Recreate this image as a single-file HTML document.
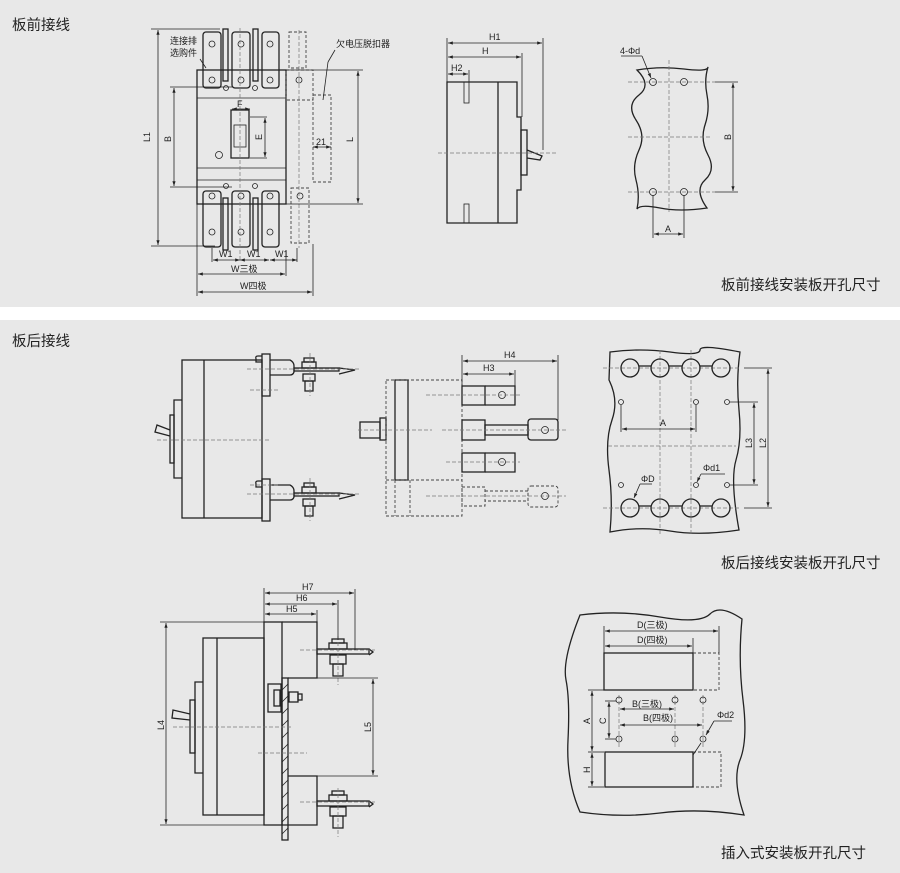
<!DOCTYPE html>
<html><head><meta charset="utf-8"><style>
html,body{margin:0;padding:0;background:#e8e8e8;}
svg{display:block;}
text{font-family:"Liberation Sans","Noto Sans CJK SC",sans-serif;fill:#222;}
.l{fill:none;stroke:#222;stroke-width:1.3;}
.t{fill:none;stroke:#222;stroke-width:0.8;}
.d{fill:none;stroke:#444;stroke-width:0.9;stroke-dasharray:3 2;}
.c{fill:none;stroke:#777;stroke-width:0.7;stroke-dasharray:4 2;}
.s{font-size:9px;}
.cap{font-size:14.5px;}
</style></head><body>
<svg width="900" height="873" viewBox="0 0 900 873" xmlns="http://www.w3.org/2000/svg">
<defs>
<marker id="a" viewBox="0 0 6 6" refX="6" refY="3" markerWidth="6" markerHeight="6" orient="auto-start-reverse"><path d="M0,1 L6,3 L0,5z" fill="#222"/></marker>
</defs>
<rect x="0" y="0" width="900" height="873" fill="#e8e8e8"/>
<rect x="0" y="307" width="900" height="13" fill="#fff"/>

<text x="12" y="30" class="cap">板前接线</text>
<text x="721" y="290" class="cap">板前接线安装板开孔尺寸</text>
<text x="12" y="346" class="cap">板后接线</text>
<text x="721" y="568" class="cap">板后接线安装板开孔尺寸</text>
<text x="721" y="858" class="cap">插入式安装板开孔尺寸</text>

<!-- ===== front view ===== -->
<g>
<rect class="l" x="197" y="70" width="89" height="134"/>
<line class="t" x1="197" y1="98" x2="286" y2="98"/>
<line class="t" x1="197" y1="168" x2="286" y2="168"/>
<line class="t" x1="197" y1="180" x2="286" y2="180"/>
<rect class="l" x="231" y="110" width="18" height="48"/>
<rect class="t" x="234" y="125" width="12" height="22"/>
<circle class="t" cx="219" cy="155" r="3.5"/>
<!-- top pads -->
<g class="l">
<rect x="203" y="32" width="18" height="56" rx="3"/>
<rect x="232" y="32" width="18" height="56" rx="3"/>
<rect x="262" y="32" width="17" height="56" rx="3"/>
<rect x="223" y="29" width="5" height="52"/>
<rect x="253" y="29" width="5" height="52"/>
<rect x="203" y="191" width="18" height="56" rx="3"/>
<rect x="232" y="191" width="18" height="56" rx="3"/>
<rect x="262" y="191" width="17" height="56" rx="3"/>
<rect x="223" y="198" width="5" height="52"/>
<rect x="253" y="198" width="5" height="52"/>
</g>
<g class="t">
<circle cx="212" cy="44" r="3"/><circle cx="241" cy="44" r="3"/><circle cx="270" cy="44" r="3"/>
<circle cx="212" cy="80" r="3"/><circle cx="241" cy="80" r="3"/><circle cx="270" cy="80" r="3"/>
<circle cx="226" cy="88" r="2.5"/><circle cx="255" cy="88" r="2.5"/>
<circle cx="226" cy="186" r="2.5"/><circle cx="255" cy="186" r="2.5"/>
<circle cx="212" cy="196" r="3"/><circle cx="241" cy="196" r="3"/><circle cx="270" cy="196" r="3"/>
<circle cx="212" cy="232" r="3"/><circle cx="241" cy="232" r="3"/><circle cx="270" cy="232" r="3"/>
<circle cx="299" cy="80" r="3"/><circle cx="300" cy="196" r="3"/>
</g>
<rect class="d" x="289" y="32" width="17" height="36"/>
<rect class="d" x="286" y="70" width="27" height="30"/>
<rect class="d" x="313" y="95" width="18" height="87"/>
<rect class="d" x="291" y="188" width="18" height="55"/>
<line class="c" x1="240" y1="28" x2="240" y2="262"/>
<line class="c" x1="299" y1="30" x2="299" y2="248"/>
<!-- dims -->
<line class="t" x1="151" y1="29" x2="220" y2="29"/>
<line class="t" x1="151" y1="246" x2="215" y2="246"/>
<line class="t" x1="158" y1="30" x2="158" y2="245" marker-start="url(#a)" marker-end="url(#a)"/>
<text x="150" y="142" class="s" transform="rotate(-90 150 142)">L1</text>
<line class="t" x1="170" y1="87" x2="232" y2="87"/>
<line class="t" x1="170" y1="187" x2="232" y2="187"/>
<line class="t" x1="174" y1="88" x2="174" y2="186" marker-start="url(#a)" marker-end="url(#a)"/>
<text x="171" y="142" class="s" transform="rotate(-90 171 142)">B</text>
<line class="t" x1="286" y1="70" x2="363" y2="70"/>
<line class="t" x1="286" y1="204" x2="363" y2="204"/>
<line class="t" x1="358" y1="71" x2="358" y2="203" marker-start="url(#a)" marker-end="url(#a)"/>
<text x="353" y="142" class="s" transform="rotate(-90 353 142)">L</text>
<text x="237" y="107" class="s">F</text>
<line class="t" x1="232" y1="109" x2="250" y2="109" marker-start="url(#a)" marker-end="url(#a)"/>
<line class="t" x1="250" y1="117" x2="267" y2="117"/><line class="t" x1="250" y1="158" x2="267" y2="158"/>
<line class="t" x1="265" y1="118" x2="265" y2="157" marker-start="url(#a)" marker-end="url(#a)"/>
<text x="262" y="140" class="s" transform="rotate(-90 262 140)">E</text>
<text x="316" y="145" class="s">21</text>
<line class="t" x1="313" y1="147" x2="331" y2="147" marker-start="url(#a)" marker-end="url(#a)"/>
<text x="170" y="44" class="s">连接排</text>
<text x="170" y="56" class="s">选购件</text>
<line class="t" x1="200" y1="59" x2="206" y2="68"/>
<text x="336" y="47" class="s">欠电压脱扣器</text>
<line class="t" x1="335" y1="50" x2="328" y2="62"/>
<line class="t" x1="328" y1="62" x2="323" y2="100"/>
<line class="t" x1="212" y1="248" x2="212" y2="262"/>
<line class="t" x1="297" y1="248" x2="297" y2="262"/>
<line class="t" x1="213" y1="260" x2="240" y2="260" marker-start="url(#a)" marker-end="url(#a)"/>
<line class="t" x1="240" y1="260" x2="269" y2="260" marker-start="url(#a)" marker-end="url(#a)"/>
<line class="t" x1="270" y1="260" x2="297" y2="260" marker-start="url(#a)" marker-end="url(#a)"/>
<text x="219" y="257" class="s">W1</text><text x="247" y="257" class="s">W1</text><text x="275" y="257" class="s">W1</text>
<line class="t" x1="197" y1="204" x2="197" y2="296"/>
<line class="t" x1="286" y1="250" x2="286" y2="276"/>
<line class="t" x1="313" y1="244" x2="313" y2="296"/>
<line class="t" x1="198" y1="274" x2="285" y2="274" marker-start="url(#a)" marker-end="url(#a)"/>
<text x="231" y="272" class="s">W三极</text>
<line class="t" x1="198" y1="292" x2="312" y2="292" marker-start="url(#a)" marker-end="url(#a)"/>
<text x="240" y="289" class="s">W四极</text>
</g>

<!-- ===== side view top ===== -->
<g>
<path class="l" d="M447,82 H517 V117 H521 V190 H517 V223 H447 Z"/>
<line class="l" x1="498" y1="82" x2="498" y2="223"/>
<rect class="l" x="521" y="130" width="6" height="45"/>
<path class="l" d="M527,150 L542,156 L540,160 L527,158"/>
<rect class="t" x="464" y="82" width="5" height="21"/>
<rect class="t" x="464" y="204" width="5" height="19"/>
<line class="c" x1="438" y1="153" x2="558" y2="153"/>
<line class="t" x1="447" y1="38" x2="447" y2="82"/>
<line class="t" x1="543" y1="38" x2="543" y2="150"/>
<line class="t" x1="522" y1="53" x2="522" y2="117"/>
<line class="t" x1="469" y1="70" x2="469" y2="82"/>
<line class="t" x1="448" y1="43" x2="542" y2="43" marker-start="url(#a)" marker-end="url(#a)"/>
<text x="489" y="40" class="s">H1</text>
<line class="t" x1="448" y1="57" x2="521" y2="57" marker-start="url(#a)" marker-end="url(#a)"/>
<text x="482" y="54" class="s">H</text>
<line class="t" x1="448" y1="74" x2="468" y2="74" marker-start="url(#a)" marker-end="url(#a)"/>
<text x="451" y="71" class="s">H2</text>
</g>

<!-- ===== panel top right ===== -->
<g>
<path class="l" d="M637,70 Q660,66 684,69 T708,67 Q704,80 707,95 T705,125 T708,155 T705,180 T707,208 Q680,212 660,208 T637,209 Q640,195 636,180 T639,150 T636,120 T639,95 T637,70 Z"/>
<line class="c" x1="628" y1="82" x2="715" y2="82"/>
<line class="c" x1="628" y1="192" x2="715" y2="192"/>
<line class="c" x1="628" y1="137" x2="712" y2="137"/>
<line class="c" x1="669" y1="60" x2="669" y2="212"/>
<g class="t"><circle cx="653" cy="82" r="3.5"/><circle cx="684" cy="82" r="3.5"/><circle cx="653" cy="192" r="3.5"/><circle cx="684" cy="192" r="3.5"/></g>
<line class="t" x1="653" y1="195" x2="653" y2="238"/><line class="t" x1="684" y1="195" x2="684" y2="238"/>
<line class="t" x1="654" y1="234" x2="683" y2="234" marker-start="url(#a)" marker-end="url(#a)"/>
<text x="665" y="232" class="s">A</text>
<line class="t" x1="715" y1="82" x2="738" y2="82"/><line class="t" x1="715" y1="192" x2="738" y2="192"/>
<line class="t" x1="733" y1="83" x2="733" y2="191" marker-start="url(#a)" marker-end="url(#a)"/>
<text x="731" y="140" class="s" transform="rotate(-90 731 140)">B</text>
<text x="620" y="54" class="s">4-Φd</text>
<line class="t" x1="621" y1="56" x2="642" y2="56"/>
<line class="t" x1="642" y1="56" x2="651" y2="78" marker-end="url(#a)"/>
</g>

<!-- ===== rear side view ===== -->
<g>
<rect class="l" x="182" y="360" width="80" height="158"/>
<line class="l" x1="204" y1="360" x2="204" y2="518"/>
<path class="l" d="M182,400 H174 V478 H182"/>
<rect class="l" x="170" y="415" width="4" height="48"/>
<path class="l" d="M170,430 L157,425 L155,432 L170,436"/>
<line class="c" x1="157" y1="440" x2="270" y2="440"/>
<g id="term">
<path class="l" d="M262,356 H258 Q255,356 256,359 V362 H262"/>
<rect class="l" x="262" y="354" width="8" height="42"/>
<path class="l" d="M270,360 H290 Q294,362 294,366 V372 Q293,375 290,375 H270"/>
<rect class="l" x="294" y="368" width="45" height="3"/>
<path class="l" d="M339,368 L355,370 L339,374"/>
<rect class="l" x="302" y="362" width="14" height="6"/>
<rect class="l" x="304" y="358" width="10" height="4"/>
<rect class="l" x="303" y="374" width="12" height="7"/>
<rect class="l" x="305" y="381" width="8" height="10"/>
<line class="c" x1="310" y1="353" x2="310" y2="396"/>
<line class="c" x1="247" y1="369" x2="360" y2="369"/>
</g>
<use href="#term" transform="translate(0,125)"/>
<line class="c" x1="250" y1="390" x2="280" y2="390"/>
<line class="c" x1="250" y1="485" x2="280" y2="485"/>
</g>

<!-- ===== middle rear ===== -->
<g>
<rect class="l" x="395" y="380" width="13" height="100"/>
<rect class="l" x="380" y="418" width="6" height="22"/>
<rect class="l" x="360" y="422" width="20" height="16"/>
<rect class="d" x="386" y="380" width="76" height="136"/>
<line class="d" x1="395" y1="480" x2="395" y2="516"/>
<line class="d" x1="410" y1="480" x2="410" y2="516"/>
<line class="d" x1="386" y1="480" x2="462" y2="480"/>
<line class="c" x1="358" y1="430" x2="432" y2="430"/>
<rect class="l" x="462" y="386" width="23" height="19"/>
<path class="l" d="M485,386 H515 V405 H485"/>
<circle class="t" cx="502" cy="395" r="3.5"/>
<rect class="l" x="462" y="420" width="23" height="20"/>
<rect class="l" x="485" y="425" width="43" height="10"/>
<rect class="l" x="528" y="419" width="30" height="21" rx="3"/>
<circle class="t" cx="545" cy="430" r="3.5"/>
<rect class="l" x="462" y="453" width="23" height="19"/>
<path class="l" d="M485,453 H515 V472 H485"/>
<circle class="t" cx="502" cy="462" r="3.5"/>
<rect class="d" x="462" y="487" width="23" height="19"/>
<rect class="d" x="485" y="491" width="43" height="10"/>
<rect class="d" x="528" y="486" width="30" height="21" rx="3"/>
<circle class="t" cx="545" cy="496" r="3.5"/>
<line class="c" x1="426" y1="395" x2="520" y2="395"/>
<line class="c" x1="442" y1="430" x2="566" y2="430"/>
<line class="c" x1="446" y1="462" x2="520" y2="462"/>
<line class="c" x1="426" y1="496" x2="566" y2="496"/>
<line class="t" x1="462" y1="355" x2="462" y2="386"/>
<line class="t" x1="558" y1="355" x2="558" y2="420"/>
<line class="t" x1="515" y1="370" x2="515" y2="386"/>
<line class="t" x1="463" y1="361" x2="557" y2="361" marker-start="url(#a)" marker-end="url(#a)"/>
<text x="504" y="358" class="s">H4</text>
<line class="t" x1="463" y1="374" x2="514" y2="374" marker-start="url(#a)" marker-end="url(#a)"/>
<text x="483" y="371" class="s">H3</text>
</g>

<!-- ===== rear panel ===== -->
<g>
<path class="l" d="M610,352 Q640,348 670,352 T700,350 T740,352 Q736,380 739,410 T736,460 T739,530 Q700,536 670,531 T610,532 Q613,500 609,470 T612,420 T609,380 Z"/>
<line class="c" x1="603" y1="368" x2="740" y2="368"/>
<line class="c" x1="603" y1="508" x2="740" y2="508"/>
<line class="c" x1="608" y1="446" x2="736" y2="446"/>
<line class="c" x1="660" y1="350" x2="660" y2="534"/>
<line class="c" x1="691" y1="350" x2="691" y2="534"/>
<g class="l">
<circle cx="630" cy="368" r="9"/><circle cx="660" cy="368" r="9"/><circle cx="691" cy="368" r="9"/><circle cx="721" cy="368" r="9"/>
<circle cx="630" cy="508" r="9"/><circle cx="660" cy="508" r="9"/><circle cx="691" cy="508" r="9"/><circle cx="721" cy="508" r="9"/>
<line x1="639" y1="366" x2="651" y2="366"/><line x1="669" y1="366" x2="682" y2="366"/><line x1="700" y1="366" x2="712" y2="366"/>
<line x1="639" y1="506" x2="651" y2="506"/><line x1="669" y1="506" x2="682" y2="506"/><line x1="700" y1="506" x2="712" y2="506"/>
</g>
<g class="t">
<circle cx="621" cy="402" r="2.5"/><circle cx="696" cy="402" r="2.5"/><circle cx="727" cy="402" r="2.5"/>
<circle cx="621" cy="485" r="2.5"/><circle cx="696" cy="485" r="2.5"/><circle cx="727" cy="485" r="2.5"/>
</g>
<line class="t" x1="621" y1="405" x2="621" y2="432"/><line class="t" x1="696" y1="405" x2="696" y2="432"/>
<line class="t" x1="622" y1="429" x2="695" y2="429" marker-start="url(#a)" marker-end="url(#a)"/>
<text x="660" y="426" class="s">A</text>
<line class="t" x1="730" y1="402" x2="758" y2="402"/><line class="t" x1="730" y1="485" x2="758" y2="485"/>
<line class="t" x1="744" y1="368" x2="772" y2="368"/><line class="t" x1="744" y1="508" x2="772" y2="508"/>
<line class="t" x1="754" y1="403" x2="754" y2="484" marker-start="url(#a)" marker-end="url(#a)"/>
<text x="752" y="448" class="s" transform="rotate(-90 752 448)">L3</text>
<line class="t" x1="768" y1="369" x2="768" y2="507" marker-start="url(#a)" marker-end="url(#a)"/>
<text x="766" y="448" class="s" transform="rotate(-90 766 448)">L2</text>
<text x="641" y="482" class="s">ΦD</text>
<line class="t" x1="640" y1="484" x2="652" y2="484"/>
<line class="t" x1="640" y1="484" x2="634" y2="498" marker-end="url(#a)"/>
<text x="703" y="471" class="s">Φd1</text>
<line class="t" x1="701" y1="474" x2="725" y2="474"/>
<line class="t" x1="701" y1="474" x2="697" y2="482" marker-end="url(#a)"/>
</g>

<!-- ===== plug-in side view ===== -->
<g>
<rect class="l" x="203" y="638" width="61" height="177"/>
<line class="l" x1="217" y1="638" x2="217" y2="815"/>
<path class="l" d="M203,682 H195 V773 H203"/>
<rect class="l" x="190" y="700" width="5" height="53"/>
<path class="l" d="M190,714 L173,710 L172,718 L190,720"/>
<rect class="l" x="264" y="622" width="18" height="203"/>
<path class="l" d="M282,622 H317 V678 H288"/>
<path class="l" d="M288,776 H317 V825 H282"/>
<rect class="l" x="282" y="678" width="6" height="162"/>
<g class="t">
<line x1="282" y1="690" x2="288" y2="684"/><line x1="282" y1="702" x2="288" y2="696"/><line x1="282" y1="714" x2="288" y2="708"/>
<line x1="282" y1="726" x2="288" y2="720"/><line x1="282" y1="738" x2="288" y2="732"/><line x1="282" y1="750" x2="288" y2="744"/>
<line x1="282" y1="762" x2="288" y2="756"/><line x1="282" y1="774" x2="288" y2="768"/><line x1="282" y1="786" x2="288" y2="780"/>
<line x1="282" y1="798" x2="288" y2="792"/><line x1="282" y1="810" x2="288" y2="804"/><line x1="282" y1="822" x2="288" y2="816"/>
<line x1="282" y1="834" x2="288" y2="828"/>
</g>
<rect class="l" x="268" y="684" width="13" height="28"/>
<rect class="l" x="274" y="690" width="6" height="16"/>
<rect class="l" x="289" y="692" width="9" height="10"/>
<rect class="l" x="298" y="694" width="4" height="6"/>
<g id="bolt2">
<rect class="l" x="317" y="649" width="52" height="5"/>
<path class="l" d="M369,649 L373,652 L369,655"/>
<rect class="l" x="329" y="643" width="18" height="6"/>
<rect class="l" x="332" y="639" width="12" height="4"/>
<rect class="l" x="330" y="655" width="16" height="9"/>
<rect class="l" x="333" y="664" width="10" height="12"/>
<line class="c" x1="300" y1="650" x2="375" y2="650"/>
<line class="c" x1="338" y1="636" x2="338" y2="685"/>
</g>
<use href="#bolt2" transform="translate(0,152)"/>
<line class="c" x1="173" y1="727" x2="292" y2="727"/>
<line class="c" x1="258" y1="753" x2="307" y2="753"/>
<line class="t" x1="264" y1="588" x2="264" y2="622"/>
<line class="t" x1="317" y1="610" x2="317" y2="622"/>
<line class="t" x1="338" y1="600" x2="338" y2="640"/>
<line class="t" x1="355" y1="589" x2="355" y2="650"/>
<line class="t" x1="265" y1="593" x2="354" y2="593" marker-start="url(#a)" marker-end="url(#a)"/>
<text x="302" y="590" class="s">H7</text>
<line class="t" x1="265" y1="604" x2="337" y2="604" marker-start="url(#a)" marker-end="url(#a)"/>
<text x="296" y="601" class="s">H6</text>
<line class="t" x1="265" y1="614" x2="316" y2="614" marker-start="url(#a)" marker-end="url(#a)"/>
<text x="286" y="612" class="s">H5</text>
<line class="t" x1="160" y1="622" x2="264" y2="622"/>
<line class="t" x1="160" y1="825" x2="264" y2="825"/>
<line class="t" x1="166" y1="623" x2="166" y2="824" marker-start="url(#a)" marker-end="url(#a)"/>
<text x="164" y="730" class="s" transform="rotate(-90 164 730)">L4</text>
<line class="t" x1="317" y1="678" x2="378" y2="678"/>
<line class="t" x1="317" y1="776" x2="378" y2="776"/>
<line class="t" x1="373" y1="679" x2="373" y2="775" marker-start="url(#a)" marker-end="url(#a)"/>
<text x="371" y="732" class="s" transform="rotate(-90 371 732)">L5</text>
</g>

<!-- ===== plug-in panel ===== -->
<g>
<path class="l" d="M580,615 Q620,610 660,617 T710,614 T742,619 Q738,660 743,700 T740,760 T744,815 Q700,808 660,813 T580,812 Q566,780 568,740 T566,680 T580,615 Z"/>
<rect class="l" x="604" y="653" width="89" height="37"/>
<rect class="l" x="605" y="752" width="88" height="35"/>
<path class="d" d="M693,653 H719 V690 H693"/>
<path class="d" d="M693,752 H721 V787 H693"/>
<line class="t" x1="604" y1="626" x2="604" y2="653"/>
<line class="t" x1="693" y1="638" x2="693" y2="653"/>
<line class="t" x1="719" y1="626" x2="719" y2="653"/>
<line class="t" x1="605" y1="631" x2="718" y2="631" marker-start="url(#a)" marker-end="url(#a)"/>
<text x="637" y="628" class="s">D(三极)</text>
<line class="t" x1="605" y1="646" x2="692" y2="646" marker-start="url(#a)" marker-end="url(#a)"/>
<text x="637" y="643" class="s">D(四极)</text>
<line class="c" x1="619" y1="695" x2="619" y2="748"/>
<line class="c" x1="675" y1="695" x2="675" y2="748"/>
<line class="c" x1="703" y1="695" x2="703" y2="748"/>
<g class="t">
<circle cx="619" cy="700" r="3"/><circle cx="675" cy="700" r="3"/><circle cx="703" cy="700" r="3"/>
<circle cx="619" cy="739" r="3"/><circle cx="675" cy="739" r="3"/><circle cx="703" cy="739" r="3"/>
</g>
<line class="t" x1="620" y1="709" x2="674" y2="709" marker-start="url(#a)" marker-end="url(#a)"/>
<text x="632" y="707" class="s">B(三极)</text>
<line class="t" x1="620" y1="725" x2="702" y2="725" marker-start="url(#a)" marker-end="url(#a)"/>
<text x="643" y="721" class="s">B(四极)</text>
<line class="t" x1="605" y1="701" x2="616" y2="701"/><line class="t" x1="605" y1="739" x2="616" y2="739"/>
<line class="t" x1="609" y1="702" x2="609" y2="738" marker-start="url(#a)" marker-end="url(#a)"/>
<text x="606" y="724" class="s" transform="rotate(-90 606 724)">C</text>
<line class="t" x1="588" y1="690" x2="604" y2="690"/><line class="t" x1="588" y1="752" x2="604" y2="752"/><line class="t" x1="588" y1="787" x2="604" y2="787"/>
<line class="t" x1="592" y1="691" x2="592" y2="751" marker-start="url(#a)" marker-end="url(#a)"/>
<text x="590" y="724" class="s" transform="rotate(-90 590 724)">A</text>
<line class="t" x1="592" y1="753" x2="592" y2="786" marker-start="url(#a)" marker-end="url(#a)"/>
<text x="590" y="773" class="s" transform="rotate(-90 590 773)">H</text>
<text x="717" y="718" class="s">Φd2</text>
<line class="t" x1="714" y1="721" x2="732" y2="721"/>
<line class="t" x1="714" y1="721" x2="706" y2="735" marker-end="url(#a)"/>
<line class="t" x1="701" y1="743" x2="693" y2="755"/>
</g>
</svg>
</body></html>
